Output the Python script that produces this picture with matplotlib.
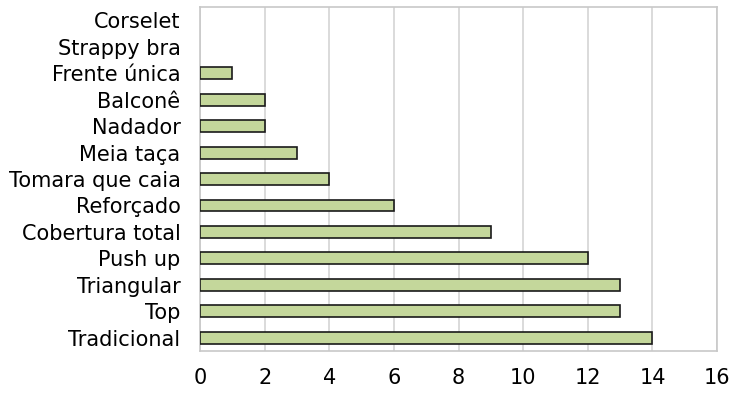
import numpy as np
import matplotlib
matplotlib.use("Agg")
import matplotlib.pyplot as plt

categories = ["Tradicional", "Top", "Triangular", "Push up", "Cobertura total",
              "Reforçado", "Tomara que caia", "Meia taça", "Nadador", "Balconê",
              "Frente única", "Strappy bra", "Corselet"]
values = [14, 13, 13, 12, 9, 6, 4, 3, 2, 2, 1, 0, 0]
xticks = [0, 2, 4, 6, 8, 10, 12, 14, 16]

fig = plt.figure(figsize=(7.34, 3.97), dpi=100)
ax = fig.add_axes([0.2725, 0.116, 0.7045, 0.866])

y = np.arange(len(categories))
# no outline for empty bars
edges = ["#1a1a1a" if v > 0 else "none" for v in values]
ax.barh(y, values, height=0.45, color="#c4d79b", edgecolor=edges, linewidth=1.2, zorder=3)

ax.set_xlim(0, 16)
ax.set_ylim(-0.5, len(categories) - 0.5)
ax.set_xticks(xticks)
ax.set_yticks(y)
ax.set_yticklabels(categories)
ax.tick_params(axis="both", length=0, labelsize=15, colors="black")
ax.tick_params(axis="x", pad=12)
ax.tick_params(axis="y", pad=14)
ax.xaxis.grid(True, color="#d4d4d4", linewidth=1.2, zorder=0)
for s in ax.spines.values():
    s.set_color("#c8c8c8")
    s.set_linewidth(1.2)

fig.savefig("out.png", dpi=100)
